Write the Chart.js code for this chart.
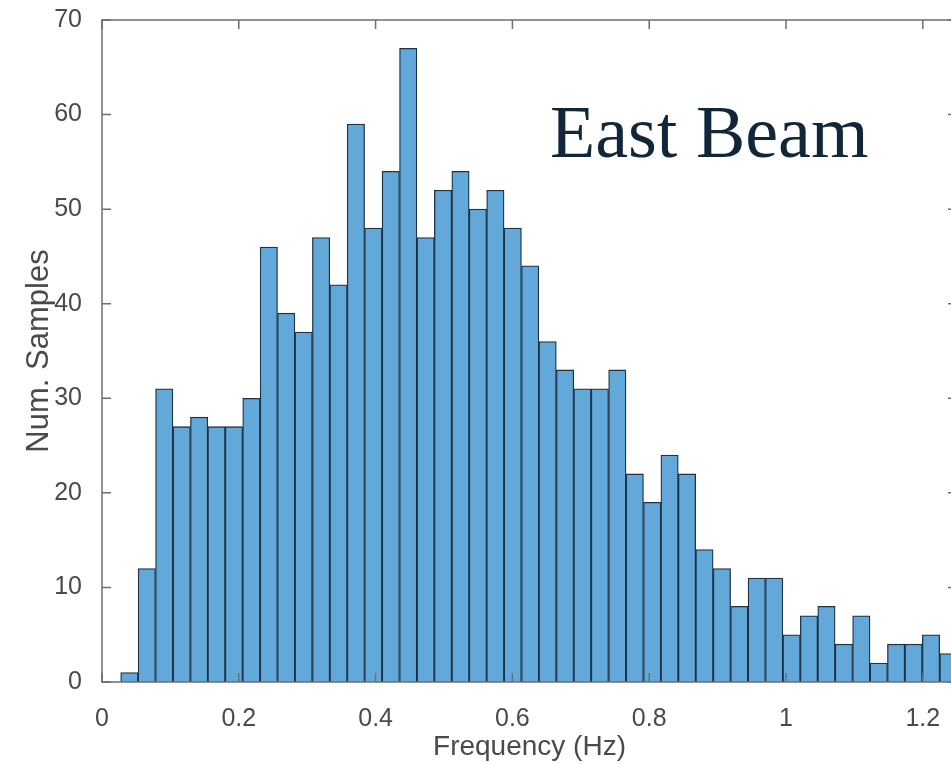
<!DOCTYPE html>
<html>
<head>
<meta charset="utf-8">
<script src="https://cdn.jsdelivr.net/npm/chart.js@4.4.0/dist/chart.umd.min.js"></script>
<style>
  html, body { margin: 0; padding: 0; background: #fff; overflow: hidden; }
  #wrap { width: 951px; height: 764px; overflow: hidden; }
</style>
</head>
<body>
<div id="wrap"><canvas id="histChart" width="960" height="764"></canvas></div>
<script>
// bin centres (Hz) and counts
const binCenters = [
  0.0400, 0.0655, 0.0910, 0.1165, 0.1420, 0.1674, 0.1929, 0.2184,
  0.2439, 0.2693, 0.2948, 0.3203, 0.3458, 0.3712, 0.3967, 0.4222,
  0.4477, 0.4732, 0.4986, 0.5241, 0.5496, 0.5751, 0.6005, 0.6260,
  0.6515, 0.6770, 0.7024, 0.7279, 0.7534, 0.7789, 0.8044, 0.8298,
  0.8553, 0.8808, 0.9063, 0.9317, 0.9572, 0.9827, 1.0082, 1.0336,
  1.0591, 1.0846, 1.1101, 1.1356, 1.1610, 1.1865, 1.2120, 1.2375
];
const counts = [
  1, 12, 31, 27, 28, 27, 27, 30,
  46, 39, 37, 47, 42, 59, 48, 54,
  67, 47, 52, 54, 50, 52, 48, 44,
  36, 33, 31, 31, 33, 22, 19, 24,
  22, 14, 12, 8, 11, 11, 5, 7,
  8, 4, 7, 2, 4, 4, 5, 3
];
const xTicks = [0, 0.2, 0.4, 0.6, 0.8, 1, 1.2];
const yTicks = [0, 10, 20, 30, 40, 50, 60, 70];

const axisGray = '#6f6f6f';
const labelGray = '#4a4a4a';
const sans = "'Liberation Sans', Arial, sans-serif";

// matlab style box with inward ticks on all four sides, plus the overlay label
const boxAndTicks = {
    id: 'boxAndTicks',
    afterDatasetsDraw(chart) {
        const { ctx, chartArea: a, scales: { x, y } } = chart;
        const len = 9;
        ctx.save();
        ctx.strokeStyle = axisGray;
        ctx.lineWidth = 1.5;
        ctx.strokeRect(a.left, a.top, a.right - a.left, a.bottom - a.top);
        ctx.beginPath();
        x.ticks.forEach(t => {
            const px = x.getPixelForValue(t.value);
            ctx.moveTo(px, a.bottom); ctx.lineTo(px, a.bottom - len);
            ctx.moveTo(px, a.top); ctx.lineTo(px, a.top + len);
        });
        y.ticks.forEach(t => {
            const py = y.getPixelForValue(t.value);
            ctx.moveTo(a.left, py); ctx.lineTo(a.left + len, py);
            ctx.moveTo(a.right, py); ctx.lineTo(a.right - len, py);
        });
        ctx.stroke();

        ctx.fillStyle = '#12263a';
        ctx.font = "74px 'Liberation Serif', 'Times New Roman', serif";
        ctx.textBaseline = 'alphabetic';
        ctx.textAlign = 'left';
        ctx.fillText('East Beam', 550, 157);
        ctx.restore();
    }
};

document.addEventListener('DOMContentLoaded', function () {
    const ctx = document.getElementById('histChart').getContext('2d');
    new Chart(ctx, {
        type: 'bar',
        data: {
            datasets: [{
                data: binCenters.map((f, i) => ({ x: f, y: counts[i] })),
                backgroundColor: '#62a9da',
                borderColor: '#1f3347',
                borderWidth: 1.3,
                barPercentage: 1,
                categoryPercentage: 1
            }]
        },
        options: {
            responsive: false,
            animation: false,
            layout: { padding: { top: 20, left: 0, right: 3, bottom: 0 } },
            plugins: {
                legend: { display: false },
                tooltip: { enabled: false }
            },
            scales: {
                x: {
                    type: 'linear',
                    min: 0,
                    max: 1.25,
                    offset: false,
                    grid: { display: false },
                    border: { display: false },
                    afterBuildTicks: s => { s.ticks = xTicks.map(v => ({ value: v })); },
                    afterFit: s => { s.height = 82; s.paddingLeft = 0; s.paddingRight = 0; },
                    ticks: {
                        padding: 14,
                        maxRotation: 0,
                        color: labelGray,
                        font: { family: sans, size: 25 },
                        callback: v => String(v)
                    },
                    title: {
                        display: true,
                        text: 'Frequency (Hz)',
                        color: labelGray,
                        padding: { top: 0, bottom: 0 },
                        font: { family: sans, size: 28 }
                    }
                },
                y: {
                    min: 0,
                    max: 70,
                    grid: { display: false },
                    border: { display: false },
                    afterBuildTicks: s => { s.ticks = yTicks.map(v => ({ value: v })); },
                    afterFit: s => { s.width = 102; s.paddingTop = 0; s.paddingBottom = 0; },
                    ticks: {
                        padding: 12,
                        color: labelGray,
                        font: { family: sans, size: 25 }
                    },
                    title: {
                        display: true,
                        text: 'Num. Samples',
                        color: labelGray,
                        padding: { top: 21, bottom: 0 },
                        font: { family: sans, size: 31 }
                    }
                }
            }
        },
        plugins: [boxAndTicks]
    });
});
</script>
</body>
</html>
